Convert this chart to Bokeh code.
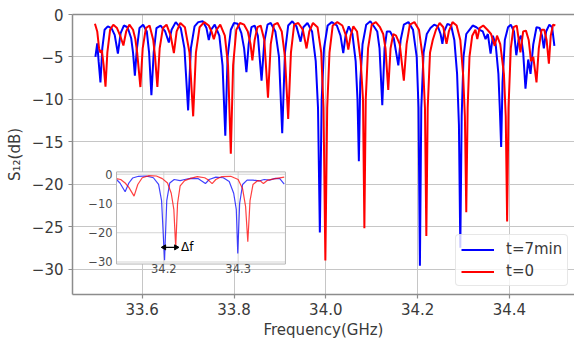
import math
from bokeh.plotting import figure
from bokeh.models import Range1d, FixedTicker, LinearAxis, Legend
from bokeh.core.properties import value
from bokeh.embed import file_html
from bokeh.resources import INLINE

FONT = "DejaVu Sans"

# ---------------- data ----------------
x_ticks = [33.6, 33.8, 34.0, 34.2, 34.4]
x_tick_labels = ["33.6", "33.8", "34.0", "34.2", "34.4"]
y_ticks = [-30, -25, -20, -15, -10, -5, 0]
y_tick_labels = ["\u221230", "\u221225", "\u221220", "\u221215", "\u221210", "\u22125", "0"]

inset_x_ticks = [34.2, 34.3]
inset_x_tick_labels = ["34.2", "34.3"]
inset_y_ticks = [-30, -20, -10, 0]
inset_y_tick_labels = ["\u221230", "\u221220", "\u221210", "0"]

series_names = ["t=7min", "t=0"]

# t=7min (blue), frequency in GHz, S12 in dB
blue_f = [33.498, 33.502, 33.505, 33.509, 33.513, 33.518, 33.525, 33.533, 33.540, 33.547,
          33.553, 33.560, 33.568, 33.576, 33.580, 33.584, 33.588, 33.594, 33.602, 33.610,
          33.615, 33.620, 33.625, 33.631, 33.640, 33.650, 33.658, 33.664, 33.673, 33.684,
          33.692, 33.700, 33.706, 33.714, 33.722, 33.732, 33.740, 33.745, 33.750, 33.758,
          33.768, 33.775, 33.781, 33.786, 33.793, 33.800, 33.808, 33.816, 33.822, 33.827,
          33.832, 33.838, 33.845, 33.852, 33.860, 33.866, 33.873, 33.880, 33.890, 33.898,
          33.905, 33.911, 33.918, 33.927, 33.936, 33.945, 33.951, 33.960, 33.970, 33.978,
          33.983, 33.987, 33.991, 33.996, 34.004, 34.013, 34.024, 34.032, 34.038, 34.043,
          34.050, 34.058, 34.065, 34.069, 34.072, 34.075, 34.080, 34.088, 34.097, 34.106,
          34.112, 34.117, 34.123, 34.128, 34.133, 34.140, 34.148, 34.158, 34.163, 34.170,
          34.180, 34.190, 34.198, 34.202, 34.205, 34.208, 34.213, 34.220, 34.228, 34.236,
          34.244, 34.250, 34.254, 34.258, 34.265, 34.273, 34.280, 34.286, 34.290, 34.293,
          34.296, 34.300, 34.306, 34.313, 34.320, 34.328, 34.335, 34.342, 34.348, 34.353,
          34.359, 34.364, 34.370, 34.376, 34.379, 34.382, 34.385, 34.390, 34.397, 34.403,
          34.410, 34.415, 34.420, 34.425, 34.430, 34.435, 34.441, 34.446, 34.452, 34.459,
          34.466, 34.471, 34.475, 34.480, 34.487, 34.493, 34.498]
blue_db = [-5.0, -3.4, -5.5, -8.0, -4.0, -1.8, -1.4, -1.6, -2.4, -4.6,
           -2.2, -1.3, -1.5, -2.8, -4.5, -7.2, -4.2, -1.6, -1.2, -2.0,
           -4.5, -9.5, -4.5, -1.6, -1.3, -2.0, -3.3, -1.8, -0.9, -1.6,
           -4.0, -11.3, -4.0, -1.4, -0.9, -0.8, -1.6, -3.0, -1.8, -1.2,
           -2.5, -6.0, -14.3, -5.0, -1.8, -1.0, -1.1, -2.2, -4.0, -6.8,
           -3.5, -1.5, -1.3, -2.5, -7.8, -3.2, -1.2, -1.0, -2.0, -5.0,
           -14.0, -4.5, -1.3, -0.8, -1.4, -3.2, -1.5, -1.0, -2.0, -5.5,
           -11.0, -25.7, -10.0, -4.0, -1.3, -0.9, -1.3, -2.5, -4.55, -2.5,
           -1.4, -2.3, -5.5, -10.0, -17.3, -8.0, -3.5, -1.2, -0.8, -1.5,
           -2.0, -4.0, -10.7, -4.0, -2.0, -2.0, -2.8, -6.0, -3.0, -1.2,
           -0.9, -1.8, -5.0, -11.0, -29.6, -11.0, -4.5, -2.3, -1.6, -1.2,
           -1.4, -2.3, -3.45, -2.0, -1.1, -1.3, -3.0, -7.0, -13.0, -27.5,
           -12.0, -5.0, -2.3, -1.8, -1.3, -1.5, -1.8, -2.0, -2.9, -2.3,
           -4.6, -2.5, -3.5, -7.0, -11.0, -15.6, -8.0, -3.0, -1.5, -1.2,
           -2.0, -4.8, -3.0, -2.5, -4.5, -8.75, -5.3, -7.0, -3.5, -1.5,
           -1.6, -2.5, -4.0, -2.0, -1.2, -1.5, -3.7]

# t=0 (red)
red_f = [33.497, 33.502, 33.506, 33.509, 33.512, 33.516, 33.520, 33.524, 33.530, 33.537,
         33.545, 33.552, 33.559, 33.565, 33.572, 33.580, 33.585, 33.589, 33.596, 33.601,
         33.608, 33.616, 33.624, 33.628, 33.633, 33.638, 33.645, 33.653, 33.662, 33.669,
         33.675, 33.683, 33.693, 33.703, 33.711, 33.717, 33.725, 33.735, 33.745, 33.751,
         33.756, 33.762, 33.770, 33.780, 33.787, 33.793, 33.798, 33.805, 33.813, 33.822,
         33.830, 33.836, 33.840, 33.845, 33.851, 33.858, 33.866, 33.874, 33.880, 33.887,
         33.895, 33.904, 33.911, 33.918, 33.924, 33.931, 33.940, 33.950, 33.958, 33.964,
         33.972, 33.982, 33.990, 33.995, 33.999, 34.003, 34.008, 34.015, 34.025, 34.036,
         34.044, 34.049, 34.054, 34.060, 34.068, 34.076, 34.081, 34.084, 34.087, 34.092,
         34.100, 34.109, 34.118, 34.125, 34.130, 34.136, 34.141, 34.147, 34.153, 34.161,
         34.170, 34.176, 34.183, 34.193, 34.203, 34.211, 34.216, 34.219, 34.222, 34.227,
         34.233, 34.240, 34.248, 34.256, 34.263, 34.268, 34.276, 34.285, 34.293, 34.299,
         34.303, 34.306, 34.309, 34.313, 34.319, 34.326, 34.330, 34.335, 34.343, 34.352,
         34.360, 34.368, 34.373, 34.380, 34.388, 34.392, 34.395, 34.398, 34.403, 34.409,
         34.416, 34.424, 34.430, 34.436, 34.442, 34.447, 34.452, 34.459, 34.464, 34.470,
         34.476, 34.481, 34.486, 34.490, 34.495, 34.500]
red_db = [-1.1, -2.0, -4.0, -4.5, -4.2, -6.0, -8.5, -4.5, -1.8, -1.2,
          -1.6, -2.5, -3.65, -2.0, -1.2, -1.8, -2.9, -4.5, -8.55, -4.0,
          -1.6, -1.3, -3.0, -5.0, -8.55, -4.0, -1.6, -1.2, -2.5, -4.55,
          -2.0, -1.0, -1.5, -4.5, -12.0, -4.5, -1.5, -0.9, -1.3, -2.0,
          -2.9, -1.8, -1.2, -2.5, -6.0, -16.4, -6.0, -1.8, -1.0, -1.2,
          -2.0, -3.5, -5.4, -3.0, -1.5, -1.3, -3.0, -9.8, -3.5, -1.2,
          -1.0, -2.0, -5.0, -12.3, -4.5, -1.2, -1.0, -1.8, -4.0, -2.0,
          -1.0, -1.5, -4.5, -11.0, -29.0, -11.0, -4.5, -1.3, -0.9, -1.3,
          -2.5, -4.15, -2.5, -1.4, -2.0, -5.5, -10.0, -25.2, -10.0, -4.0,
          -1.2, -0.9, -1.5, -2.3, -4.0, -8.9, -4.0, -2.3, -2.5, -3.5,
          -7.8, -3.5, -1.2, -0.9, -1.8, -5.0, -11.0, -26.1, -11.0, -4.5,
          -3.0, -1.8, -1.0, -1.5, -3.45, -2.0, -0.9, -1.3, -3.0, -7.0,
          -12.0, -23.3, -11.0, -5.0, -2.5, -1.8, -2.9, -1.6, -1.3, -1.8,
          -2.3, -3.7, -2.5, -3.5, -7.0, -12.0, -24.4, -11.0, -4.0, -1.5,
          -1.3, -4.45, -2.0, -1.9, -3.0, -5.5, -5.0, -8.0, -4.0, -1.8,
          -1.8, -3.0, -5.8, -2.5, -1.2, -1.3]

# inset (zoom 34.14 - 34.36 GHz)
in_blue_f = [34.136, 34.141, 34.148, 34.153, 34.158, 34.166, 34.176, 34.186, 34.193, 34.197,
             34.201, 34.204, 34.208, 34.214, 34.222, 34.228, 34.236, 34.246, 34.252, 34.256,
             34.261, 34.270, 34.280, 34.288, 34.294, 34.2975, 34.2995, 34.302, 34.306, 34.312,
             34.320, 34.328, 34.335, 34.342, 34.350, 34.356, 34.362]
in_blue_db = [-1.7, -3.0, -6.0, -3.0, -1.3, -0.7, -0.6, -1.2, -3.5, -9.0,
              -29.4, -9.0, -3.0, -1.8, -2.2, -1.8, -1.4, -1.5, -2.5, -3.2,
              -1.8, -1.0, -1.2, -2.5, -6.5, -12.0, -27.1, -10.0, -3.5, -2.0,
              -2.0, -2.3, -1.8, -2.0, -1.4, -1.5, -3.4]
in_red_f = [34.136, 34.142, 34.148, 34.153, 34.160, 34.165, 34.171, 34.180, 34.190, 34.198,
            34.205, 34.210, 34.2135, 34.216, 34.2185, 34.222, 34.228, 34.236, 34.245, 34.255,
            34.260, 34.265, 34.270, 34.278, 34.290, 34.300, 34.306, 34.310, 34.313, 34.316,
            34.320, 34.326, 34.330, 34.334, 34.340, 34.350, 34.362]
in_red_db = [-1.5, -1.8, -3.0, -4.5, -7.5, -3.5, -1.2, -0.5, -0.6, -1.5,
             -3.0, -6.5, -12.0, -25.0, -10.0, -4.0, -2.2, -1.4, -0.8, -1.2,
             -2.0, -3.2, -1.8, -0.8, -0.7, -1.8, -5.0, -11.0, -23.1, -9.0,
             -3.5, -2.2, -2.3, -3.2, -2.0, -1.5, -1.0]

# delta-f marker between the two deepest inset dips
df_start, df_end, df_level = 34.2005, 34.2165, -25.0
df_text = "\u0394f"

# ---------------- main figure ----------------
SPINE = "#8c8c8c"
TXT = "#3a3a3a"

fig = figure(width=574, height=341,
             x_range=Range1d(33.4481, 34.5418), y_range=Range1d(-33, 0),
             output_backend="svg", toolbar_location=None,
             min_border_left=72, min_border_right=0, min_border_top=14, min_border_bottom=46,
             background_fill_color="white", border_fill_color="white")
fig.outline_line_color = None

fig.line(blue_f, blue_db, line_color="#0000ff", line_width=2, legend_label=series_names[0])
fig.line(red_f, red_db, line_color="#ff0000", line_width=2, legend_label=series_names[1])

xa = fig.xaxis[0]
ya = fig.yaxis[0]
xa.ticker = FixedTicker(ticks=x_ticks)
xa.major_label_overrides = dict(zip(x_ticks, x_tick_labels))
ya.ticker = FixedTicker(ticks=y_ticks)
ya.major_label_overrides = dict(zip(y_ticks, y_tick_labels))
for ax in (xa, ya):
    ax.axis_line_color = SPINE
    ax.axis_line_width = 1.5
    ax.major_tick_line_color = SPINE
    ax.major_tick_line_width = 1.2
    ax.major_tick_in = 0
    ax.major_tick_out = 4
    ax.minor_tick_line_color = None
    ax.major_label_text_font = FONT
    ax.major_label_text_color = TXT
    ax.major_label_text_font_size = "15px"
    ax.axis_label_text_font = FONT
    ax.axis_label_text_font_style = "normal"
    ax.axis_label_text_color = TXT
    ax.axis_label_text_font_size = "15px"
xa.major_label_standoff = 4
xa.axis_label = "Frequency(GHz)"
xa.axis_label_standoff = 3
ya.major_label_standoff = 5
ya.axis_label = "S\u2081\u2082(dB)"
ya.axis_label_standoff = 5

top_spine = LinearAxis(ticker=FixedTicker(ticks=[]), axis_line_color=SPINE, axis_line_width=1.5,
                       major_tick_line_color=None, minor_tick_line_color=None,
                       major_label_text_font_size="0px")
fig.add_layout(top_spine, "above")

fig.grid.grid_line_color = "#c6c6c6"
fig.grid.grid_line_width = 1

leg = fig.legend[0]
leg.location = (383, 8)
leg.margin = 0
leg.padding = 5
leg.spacing = 4
leg.label_height = 17
leg.glyph_height = 17
leg.glyph_width = 33
leg.label_standoff = 12
leg.label_text_font = FONT
leg.label_text_font_size = "15px"
leg.label_text_color = TXT
leg.border_line_color = "#d0d0d0"
leg.border_line_width = 1
leg.background_fill_color = "white"
leg.background_fill_alpha = 0.8
if "border_radius" in Legend.properties():
    leg.border_radius = 4

# ---------------- inset, drawn in a sub-coordinate system of the main plot ----------------
in_x = Range1d(34.1364, 34.3636)        # inset data ranges
in_y = Range1d(-30.7, 0.8)
in_x_box = Range1d(33.544, 33.912)      # where the inset frame sits in the main plot
in_y_box = Range1d(-29.41, -18.55)
sub = fig.subplot(x_source=in_x, y_source=in_y, x_target=in_x_box, y_target=in_y_box)

GRID2 = "#d4d4d4"
sub.quad(left=[in_x.start], right=[in_x.end], bottom=[in_y.start], top=[in_y.end],
         fill_color="white", line_color=None)
sub.segment(x0=inset_x_ticks, y0=[in_y.start] * len(inset_x_ticks),
            x1=inset_x_ticks, y1=[in_y.end] * len(inset_x_ticks),
            line_color=GRID2, line_width=1)
sub.segment(x0=[in_x.start] * len(inset_y_ticks), y0=inset_y_ticks,
            x1=[in_x.end] * len(inset_y_ticks), y1=inset_y_ticks,
            line_color=GRID2, line_width=1)
sub.line(in_blue_f, in_blue_db, line_color="#0000ff", line_width=1.2, line_alpha=0.75)
sub.line(in_red_f, in_red_db, line_color="#ff0000", line_width=1.2, line_alpha=0.75)
sub.quad(left=[in_x.start], right=[in_x.end], bottom=[in_y.start], top=[in_y.end],
         fill_color=None, line_color="#b5b5b5", line_width=1)

sub.text(x=inset_x_ticks, y=[in_y.start] * len(inset_x_ticks), text=inset_x_tick_labels,
         y_offset=0, text_align="center", text_baseline="top",
         text_font=value(FONT), text_font_size=value("11.5px"), text_color="#4a4a4a")
sub.text(x=[in_x.start] * len(inset_y_ticks), y=inset_y_ticks, text=inset_y_tick_labels,
         x_offset=-4, text_align="right", text_baseline="middle",
         text_font=value(FONT), text_font_size=value("11.5px"), text_color="#4a4a4a")

# delta-f double arrow and label
sub.segment(x0=[df_start], y0=[df_level], x1=[df_end], y1=[df_level],
            line_color="black", line_width=1.2)
sub.scatter(x=[df_start, df_end], y=[df_level, df_level], marker="triangle", size=5,
            angle=[math.pi / 2, -math.pi / 2], fill_color="black", line_color="black")
sub.text(x=[df_end], y=[df_level], text=[df_text], x_offset=5,
         text_align="left", text_baseline="middle",
         text_font=value(FONT), text_font_size=value("12px"), text_color="black")

p = fig
open("out.html", "w").write(file_html(p, INLINE))
